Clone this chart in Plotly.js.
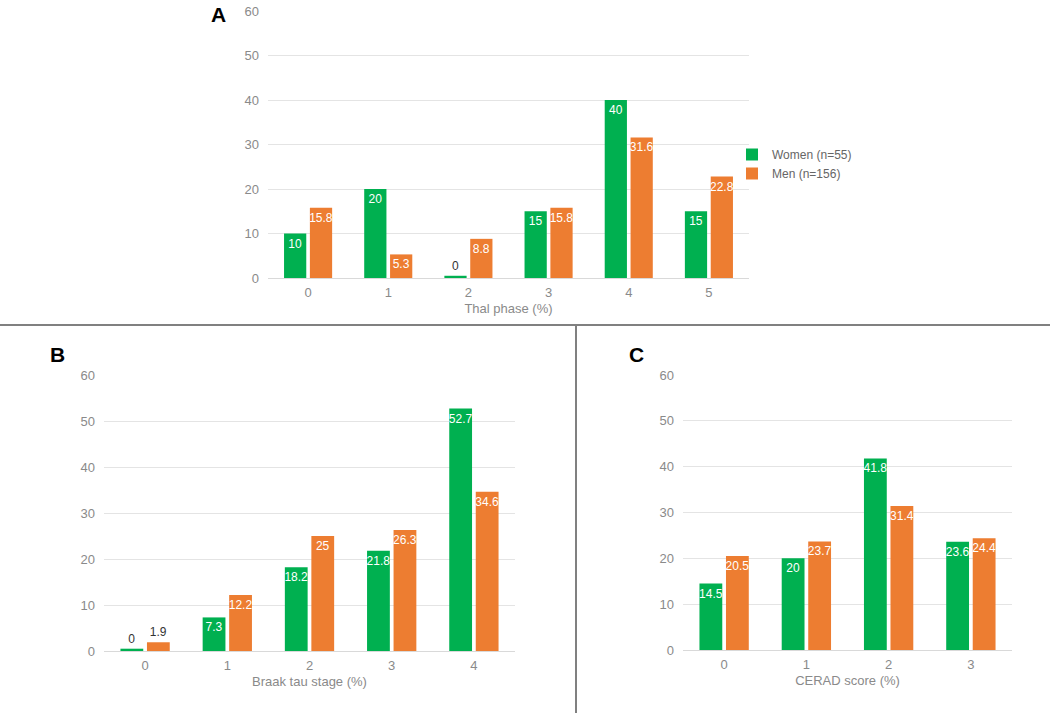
<!DOCTYPE html>
<html>
<head>
<meta charset="utf-8">
<script src="https://cdn.plot.ly/plotly-3.0.1.min.js"></script>
<style>html,body{margin:0;padding:0;background:#fff;}#chart{width:1050px;height:719px;}</style>
</head>
<body>
<div id="chart"></div>
<script>
// ---- data ----
const seriesNames = ["Women (n=55)", "Men (n=156)"];
const thalCategories = ["0", "1", "2", "3", "4", "5"];
const thalWomen = [10, 20, 0, 15, 40, 15];
const thalMen = [15.8, 5.3, 8.8, 15.8, 31.6, 22.8];
const braakCategories = ["0", "1", "2", "3", "4"];
const braakWomen = [0, 7.3, 18.2, 21.8, 52.7];
const braakMen = [1.9, 12.2, 25, 26.3, 34.6];
const ceradCategories = ["0", "1", "2", "3"];
const ceradWomen = [14.5, 20, 41.8, 23.6];
const ceradMen = [20.5, 23.7, 31.4, 24.4];
const axisTitles = ["Thal phase (%)", "Braak tau stage (%)", "CERAD score (%)"];
const panelLetters = ["A", "B", "C"];
const yTicks = [0, 10, 20, 30, 40, 50, 60];

const GREEN = "#00b050";
const ORANGE = "#ed7d31";
const FONT = "Liberation Sans, Arial, sans-serif";

function barTrace(cats, vals, name, color, xa, ya, showlegend) {
  // tiny visible stub for zero values; labels always come from the data
  const h = vals.map(v => v < 1 ? Math.max(v, 0.5) : v);
  const small = vals.map(v => v < 3);
  return {
    type: "bar",
    x: cats,
    y: h,
    name: name,
    legendgroup: name,
    showlegend: showlegend,
    xaxis: xa,
    yaxis: ya,
    marker: {color: color},
    text: vals.map(v => String(v)),
    textposition: small.map(s => s ? "outside" : "inside"),
    insidetextanchor: "end",
    textangle: 0,
    constraintext: "none",
    cliponaxis: false,
    textfont: {family: FONT, size: 12, color: small.map(s => s ? "#333333" : "#ffffff")},
    hoverinfo: "x+y+name"
  };
}

const data = [
  barTrace(thalCategories, thalWomen, seriesNames[0], GREEN, "x", "y", true),
  barTrace(thalCategories, thalMen, seriesNames[1], ORANGE, "x", "y", true),
  barTrace(braakCategories, braakWomen, seriesNames[0], GREEN, "x2", "y2", false),
  barTrace(braakCategories, braakMen, seriesNames[1], ORANGE, "x2", "y2", false),
  barTrace(ceradCategories, ceradWomen, seriesNames[0], GREEN, "x3", "y3", false),
  barTrace(ceradCategories, ceradMen, seriesNames[1], ORANGE, "x3", "y3", false)
];

const W = 1050, H = 719;
function px(x) { return x / W; }
function py(y) { return 1 - y / H; }

function xAxis(dom, title, anchor) {
  return {
    domain: dom, anchor: anchor, type: "category",
    showgrid: false, showline: false, zeroline: false, ticks: "",
    ticklabelstandoff: 5,
    tickfont: {family: FONT, size: 13, color: "#8a8a8a"},
    title: {text: title, standoff: 4, font: {family: FONT, size: 13, color: "#8a8a8a"}},
    fixedrange: true
  };
}
function yAxis(dom, anchor) {
  return {
    domain: dom, anchor: anchor, range: [0, 60],
    tickvals: yTicks, ticktext: yTicks.map(String),
    showgrid: true, gridcolor: "#e4e4e4", gridwidth: 1,
    zeroline: true, zerolinecolor: "#d9d9d9", zerolinewidth: 1,
    showline: false, ticks: "", ticklabelstandoff: 8,
    tickfont: {family: FONT, size: 13, color: "#8a8a8a"},
    fixedrange: true
  };
}

function letter(t, x, y) {
  return {text: "<b>" + t + "</b>", xref: "paper", yref: "paper", x: px(x), y: py(y),
    xanchor: "center", yanchor: "middle", showarrow: false,
    font: {family: FONT, size: 21, color: "#000"}};
}

const layout = {
  width: W, height: H,
  margin: {l: 0, r: 0, t: 0, b: 0},
  paper_bgcolor: "#ffffff", plot_bgcolor: "#ffffff",
  font: {family: FONT, size: 13, color: "#666666"},
  barmode: "group", bargap: 0.355, bargroupgap: 0.14,
  xaxis: xAxis([px(268), px(749)], axisTitles[0], "y"),
  yaxis: yAxis([py(278), py(11)], "x"),
  xaxis2: xAxis([px(104), px(515)], axisTitles[1], "y2"),
  yaxis2: yAxis([py(651), py(375)], "x2"),
  xaxis3: xAxis([px(683), px(1012)], axisTitles[2], "y3"),
  yaxis3: yAxis([py(650), py(375)], "x3"),
  showlegend: true,
  legend: {
    x: px(732), y: py(140), xanchor: "left", yanchor: "top",
    font: {family: FONT, size: 12, color: "#666666"},
    bgcolor: "rgba(0,0,0,0)", tracegroupgap: 0, itemwidth: 30
  },
  annotations: [
    letter(panelLetters[0], 218, 15),
    letter(panelLetters[1], 57, 355),
    letter(panelLetters[2], 636, 355)
  ],
  shapes: [
    {type: "line", xref: "paper", yref: "paper", x0: 0, x1: 1, y0: py(325), y1: py(325), line: {color: "#808080", width: 2}},
    {type: "line", xref: "paper", yref: "paper", x0: px(576), x1: px(576), y0: py(325), y1: py(713), line: {color: "#808080", width: 2}}
  ]
};

Plotly.newPlot("chart", data, layout, {displayModeBar: false, staticPlot: true});
</script>
</body>
</html>
